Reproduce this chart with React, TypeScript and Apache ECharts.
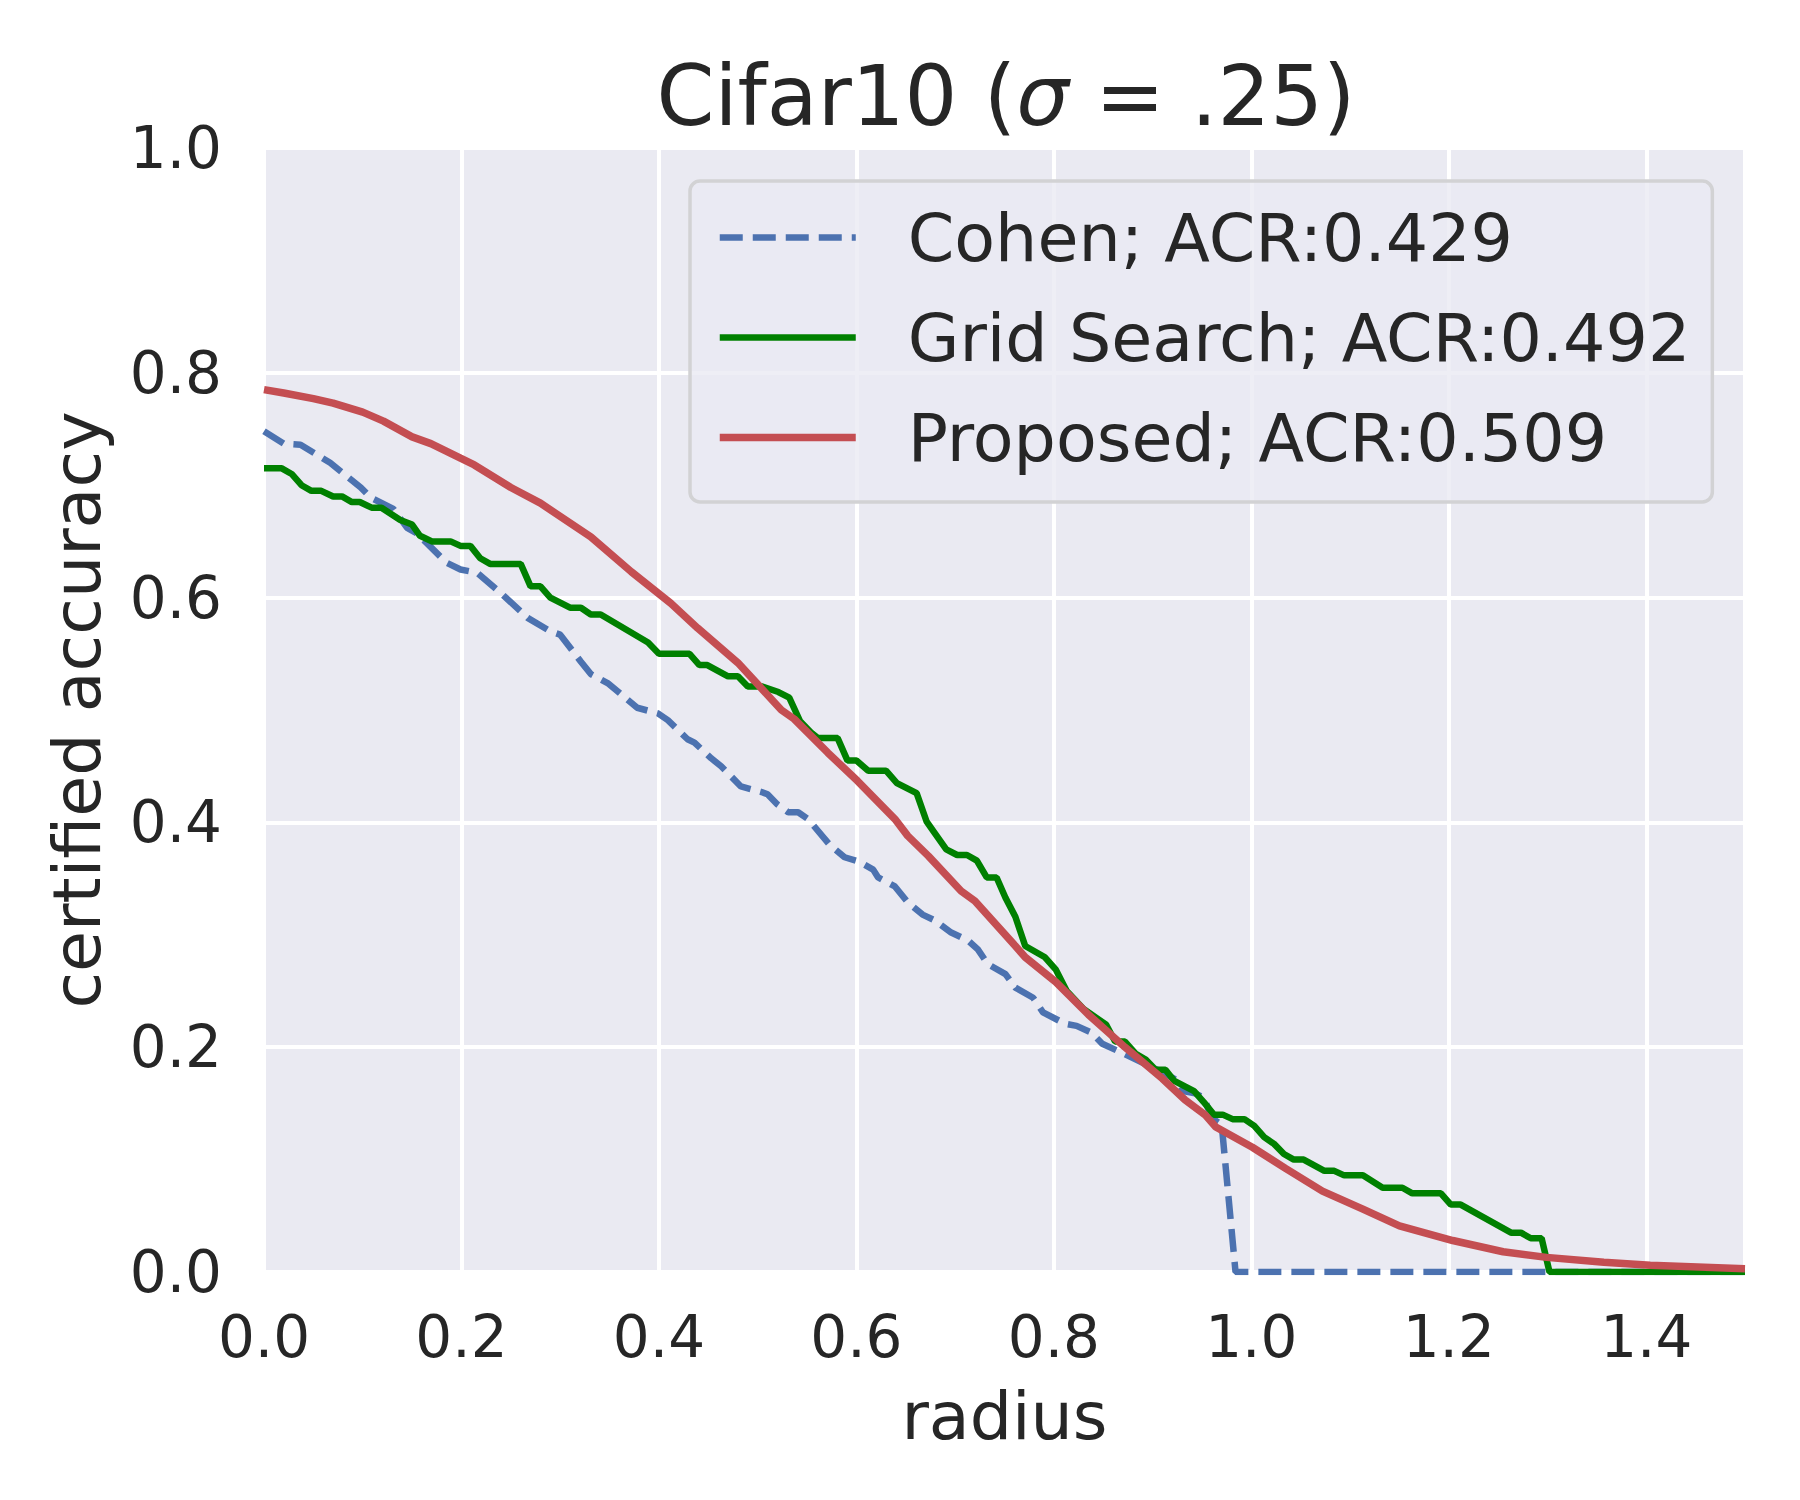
import React, { useEffect, useRef } from "react";
import * as echarts from "echarts";

// ---- data ----
const xTicks = [0, 0.2, 0.4, 0.6, 0.8, 1.0, 1.2, 1.4];
const yTicks = [0, 0.2, 0.4, 0.6, 0.8, 1.0];

const seriesNames = [
  "Cohen; ACR:0.429",
  "Grid Search; ACR:0.492",
  "Proposed; ACR:0.509",
];

const cohenRadius = [
  0.0, 0.02, 0.037, 0.067, 0.098, 0.108, 0.131, 0.145, 0.155, 0.185, 0.199,
  0.216, 0.24, 0.267, 0.29, 0.3, 0.321, 0.331, 0.348, 0.378, 0.399, 0.409,
  0.429, 0.436, 0.453, 0.463, 0.483, 0.504, 0.51, 0.52, 0.531, 0.541, 0.551,
  0.573, 0.588, 0.603, 0.617, 0.622, 0.639, 0.652, 0.667, 0.679, 0.696, 0.713,
  0.723, 0.733, 0.751, 0.761, 0.779, 0.789, 0.811, 0.823, 0.838, 0.849, 0.869,
  0.909, 0.926, 0.931, 0.943, 0.952, 0.96, 0.97, 0.984, 1.5,
];
const cohenAcc = [
  0.748, 0.737, 0.736, 0.72, 0.698, 0.689, 0.679, 0.662, 0.657, 0.631, 0.625,
  0.622, 0.604, 0.582, 0.57, 0.567, 0.543, 0.532, 0.524, 0.502, 0.497, 0.491,
  0.474, 0.471, 0.457, 0.45, 0.432, 0.427, 0.425, 0.416, 0.409, 0.409, 0.403,
  0.38, 0.369, 0.365, 0.358, 0.351, 0.343, 0.329, 0.318, 0.313, 0.302, 0.295,
  0.287, 0.274, 0.265, 0.253, 0.244, 0.231, 0.221, 0.219, 0.213, 0.203, 0.195,
  0.178, 0.17, 0.161, 0.159, 0.155, 0.137, 0.131, 0.0, 0.0,
];

const gridRadius = [
  0.0, 0.018, 0.028, 0.038, 0.048, 0.058, 0.07, 0.079, 0.089, 0.097, 0.109,
  0.119, 0.138, 0.15, 0.158, 0.17, 0.189, 0.199, 0.209, 0.219, 0.229, 0.26,
  0.27, 0.28, 0.29, 0.31, 0.321, 0.331, 0.341, 0.389, 0.4, 0.431, 0.441, 0.449,
  0.47, 0.48, 0.49, 0.504, 0.521, 0.532, 0.543, 0.554, 0.561, 0.581, 0.591,
  0.6, 0.612, 0.63, 0.641, 0.661, 0.671, 0.679, 0.691, 0.702, 0.712, 0.722,
  0.732, 0.742, 0.751, 0.761, 0.771, 0.791, 0.802, 0.813, 0.83, 0.853, 0.862,
  0.872, 0.883, 0.893, 0.903, 0.913, 0.922, 0.942, 0.952, 0.962, 0.971, 0.981,
  0.993, 1.003, 1.013, 1.023, 1.033, 1.043, 1.053, 1.074, 1.084, 1.094, 1.113,
  1.133, 1.153, 1.163, 1.192, 1.202, 1.212, 1.263, 1.273, 1.283, 1.294, 1.302,
  1.5,
];
const gridAcc = [
  0.715, 0.715, 0.71, 0.7, 0.695, 0.695, 0.69, 0.69, 0.685, 0.685, 0.68, 0.68,
  0.669, 0.665, 0.655, 0.65, 0.65, 0.646, 0.646, 0.635, 0.63, 0.63, 0.61, 0.61,
  0.6, 0.591, 0.591, 0.585, 0.585, 0.56, 0.55, 0.55, 0.54, 0.54, 0.53, 0.53,
  0.521, 0.521, 0.516, 0.511, 0.49, 0.48, 0.475, 0.475, 0.455, 0.455, 0.446,
  0.446, 0.435, 0.426, 0.401, 0.391, 0.376, 0.371, 0.371, 0.366, 0.351, 0.351,
  0.333, 0.316, 0.29, 0.28, 0.269, 0.25, 0.234, 0.22, 0.205, 0.205, 0.194,
  0.189, 0.18, 0.18, 0.17, 0.161, 0.151, 0.14, 0.14, 0.136, 0.136, 0.13, 0.12,
  0.114, 0.105, 0.1, 0.1, 0.09, 0.09, 0.086, 0.086, 0.075, 0.075, 0.07, 0.07,
  0.06, 0.06, 0.035, 0.035, 0.03, 0.03, 0.0, 0.0,
];

const proposedRadius = [
  0.0, 0.02, 0.05, 0.07, 0.1, 0.121, 0.15, 0.169, 0.199, 0.213, 0.25, 0.28,
  0.331, 0.372, 0.412, 0.439, 0.48, 0.524, 0.537, 0.571, 0.601, 0.639, 0.652,
  0.673, 0.706, 0.72, 0.761, 0.771, 0.802, 0.835, 0.872, 0.91, 0.933, 0.953,
  0.964, 1.001, 1.035, 1.072, 1.113, 1.15, 1.204, 1.255, 1.299, 1.357, 1.404,
  1.5,
];
const proposedAcc = [
  0.785, 0.782, 0.777, 0.773, 0.765, 0.757, 0.743, 0.737, 0.724, 0.718, 0.698,
  0.684, 0.654, 0.623, 0.595, 0.573, 0.542, 0.5, 0.492, 0.462, 0.437, 0.403,
  0.388, 0.37, 0.339, 0.33, 0.29, 0.28, 0.258, 0.229, 0.2, 0.172, 0.153, 0.14,
  0.129, 0.111, 0.092, 0.072, 0.056, 0.041, 0.028, 0.018, 0.013, 0.0086, 0.006,
  0.003,
];

const zip = (xs: number[], ys: number[]) => xs.map((x, i) => [x, ys[i]]);

const FONT = "DejaVu Sans";
const TEXT = "#262626";
const BLUE = "#4C72B0";
const GREEN = "#008000";
const RED = "#C44E52";

export default function App() {
  const ref = useRef<HTMLDivElement>(null);

  useEffect(() => {
    if (!ref.current) return;
    const chart = echarts.init(ref.current, undefined, { renderer: "svg" });
    const option: any = {
      animation: false,
      backgroundColor: "#ffffff",
      textStyle: { fontFamily: FONT },
      title: {
        text: "Cifar10 ({i|σ} = .25)",
        left: 1006,
        top: 55,
        textAlign: "center",
        padding: 0,
        textStyle: {
          fontFamily: FONT,
          fontSize: 83,
          fontWeight: "normal",
          color: TEXT,
          lineHeight: 83,
          rich: {
            i: {
              fontFamily: FONT,
              fontSize: 83,
              fontStyle: "italic",
              color: TEXT,
              lineHeight: 83,
            },
          },
        },
      },
      grid: {
        left: 264,
        top: 148,
        width: 1481,
        height: 1124,
        show: true,
        backgroundColor: "#EAEAF2",
        borderWidth: 0,
        containLabel: false,
      },
      legend: {
        orient: "vertical",
        left: 690,
        top: 181,
        padding: [23, 22, 31, 26],
        itemWidth: 136,
        itemHeight: 20,
        itemGap: 33,
        backgroundColor: "rgba(234,234,242,0.8)",
        borderColor: "#D2D2D4",
        borderWidth: 3.5,
        borderRadius: 10,
        selectedMode: false,
        textStyle: {
          fontFamily: FONT,
          fontSize: 66.7,
          color: TEXT,
          lineHeight: 66,
          padding: [0, 0, 0, 47],
        },
        data: [
          {
            name: seriesNames[0],
            itemStyle: { opacity: 0 },
            lineStyle: { width: 6.5, type: [23, 10], color: BLUE },
          },
          {
            name: seriesNames[1],
            itemStyle: { opacity: 0 },
            lineStyle: { width: 6.5, color: GREEN },
          },
          {
            name: seriesNames[2],
            itemStyle: { opacity: 0 },
            lineStyle: { width: 7.5, color: RED },
          },
        ],
      },
      xAxis: {
        type: "value",
        min: 0,
        max: 1.5,
        interval: 0.2,
        name: "radius",
        nameLocation: "middle",
        nameGap: 111,
        nameTextStyle: {
          fontFamily: FONT,
          fontSize: 66.7,
          color: TEXT,
          lineHeight: 66,
        },
        axisLine: { show: false },
        axisTick: { show: false },
        axisLabel: {
          fontFamily: FONT,
          fontSize: 58,
          color: TEXT,
          lineHeight: 58,
          margin: 36,
          showMaxLabel: false,
          formatter: (v: number) =>
            xTicks.some((t) => Math.abs(t - v) < 1e-6) ? v.toFixed(1) : "",
        },
        splitLine: { show: true, lineStyle: { color: "#ffffff", width: 4 } },
      },
      yAxis: {
        type: "value",
        min: 0,
        max: 1,
        interval: 0.2,
        name: "certified accuracy",
        nameLocation: "middle",
        nameRotate: 90,
        nameGap: 154,
        nameTextStyle: {
          fontFamily: FONT,
          fontSize: 66.7,
          color: TEXT,
          lineHeight: 66,
        },
        axisLine: { show: false },
        axisTick: { show: false },
        axisLabel: {
          fontFamily: FONT,
          fontSize: 58,
          color: TEXT,
          lineHeight: 58,
          margin: 42,
          formatter: (v: number) =>
            yTicks.some((t) => Math.abs(t - v) < 1e-6) ? v.toFixed(1) : "",
        },
        splitLine: { show: true, lineStyle: { color: "#ffffff", width: 4 } },
      },
      series: [
        {
          name: seriesNames[0],
          type: "line",
          data: zip(cohenRadius, cohenAcc),
          symbol: "none",
          showSymbol: false,
          lineStyle: { color: BLUE, width: 6.5, type: [23, 10] },
          itemStyle: { color: BLUE },
        },
        {
          name: seriesNames[1],
          type: "line",
          data: zip(gridRadius, gridAcc),
          symbol: "none",
          showSymbol: false,
          lineStyle: { color: GREEN, width: 6.5 },
          itemStyle: { color: GREEN },
        },
        {
          name: seriesNames[2],
          type: "line",
          data: zip(proposedRadius, proposedAcc),
          symbol: "none",
          showSymbol: false,
          lineStyle: { color: RED, width: 7.5 },
          itemStyle: { color: RED },
        },
      ],
    };
    chart.setOption(option);
    return () => chart.dispose();
  }, []);

  return (
    <div
      ref={ref}
      style={{ position: "absolute", left: 0, top: 0, width: 1800, height: 1500 }}
    />
  );
}
